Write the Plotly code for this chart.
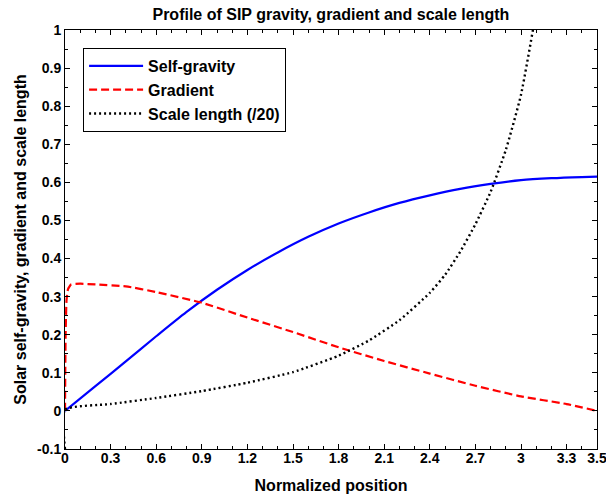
import plotly.graph_objects as go

# Data
grav_x = [0, 0.2, 0.4, 0.6, 0.8, 1.0, 1.2, 1.4, 1.6, 1.8, 2.0, 2.2, 2.4, 2.6, 2.8, 3.0, 3.2, 3.4, 3.5]
grav_y = [0, 0.065, 0.13, 0.196, 0.26, 0.318, 0.37, 0.416, 0.457, 0.492, 0.521, 0.546, 0.566, 0.583, 0.596, 0.606, 0.611, 0.614, 0.615]

grad_x = [0, 0.004, 0.01, 0.02, 0.04, 0.1, 0.2, 0.4, 0.6, 0.9, 1.2, 1.5, 1.8, 2.1, 2.4, 2.7, 3.0, 3.3, 3.5]
grad_y = [0, 0.2, 0.29, 0.32, 0.332, 0.334, 0.332, 0.327, 0.312, 0.284, 0.245, 0.207, 0.167, 0.131, 0.098, 0.066, 0.038, 0.018, 0.0]

scale_x = [0, 0, 0.3, 0.6, 0.9, 1.2, 1.5, 1.8, 2.0, 2.2, 2.4, 2.5, 2.6, 2.7, 2.8, 2.9, 3.0, 3.1, 3.15]
scale_y = [-0.1, 0.003, 0.018, 0.034, 0.052, 0.074, 0.102, 0.145, 0.185, 0.238, 0.31, 0.357, 0.418, 0.49, 0.575, 0.685, 0.83, 1.05, 1.18]

x_tickvals = [0, 0.3, 0.6, 0.9, 1.2, 1.5, 1.8, 2.1, 2.4, 2.7, 3.0, 3.3, 3.5]
x_ticktext = ["0", "0.3", "0.6", "0.9", "1.2", "1.5", "1.8", "2.1", "2.4", "2.7", "3", "3.3", "3.5"]
y_tickvals = [-0.1, 0, 0.1, 0.2, 0.3, 0.4, 0.5, 0.6, 0.7, 0.8, 0.9, 1]
y_ticktext = ["-0.1", "0", "0.1", "0.2", "0.3", "0.4", "0.5", "0.6", "0.7", "0.8", "0.9", "1"]

FONT = "Liberation Sans, Arial, sans-serif"
TICK_FS = 14
TITLE_FS = 16

fig = go.Figure()
fig.add_trace(go.Scatter(x=grav_x, y=grav_y, mode="lines", name="Self-gravity",
                         line=dict(color="#0000ff", width=2.2, shape="spline", smoothing=0.8)))
fig.add_trace(go.Scatter(x=grad_x, y=grad_y, mode="lines", name="Gradient",
                         line=dict(color="#ff0000", width=2.2, dash="8px,4px", shape="spline", smoothing=0.4)))
fig.add_trace(go.Scatter(x=scale_x, y=scale_y, mode="lines", name="Scale length (/20)",
                         line=dict(color="#000000", width=2.4, dash="2px,3px", shape="spline", smoothing=0.5)))

axis_common = dict(
    showgrid=False, zeroline=False, showline=True, linecolor="black", linewidth=1,
    mirror="allticks", ticks="inside", ticklen=5, tickcolor="black", tickwidth=1,
    tickfont=dict(family=FONT, size=TICK_FS, color="black", weight="bold"),
    ticklabeloverflow="allow",
)

fig.update_xaxes(range=[0, 3.5], tickmode="array", tickvals=x_tickvals, ticktext=x_ticktext,
                 minor=dict(dtick=0.1, tick0=0, ticks="inside", ticklen=3, tickcolor="black"),
                 ticklabelstandoff=-4, automargin=False,
                 title=dict(text="Normalized position", font=dict(family=FONT, size=TITLE_FS, color="black", weight="bold"), standoff=15),
                 **axis_common)
fig.update_yaxes(range=[-0.1, 1], tickmode="array", tickvals=y_tickvals, ticktext=y_ticktext,
                 minor=dict(dtick=0.05, tick0=0, ticks="inside", ticklen=3, tickcolor="black"),
                 automargin=True,
                 title=dict(text="Solar self-gravity, gradient and scale length", font=dict(family=FONT, size=TITLE_FS, color="black", weight="bold"), standoff=6),
                 **axis_common)

fig.update_layout(
    width=606, height=497,
    margin=dict(l=65, r=9, t=30, b=48),
    paper_bgcolor="white", plot_bgcolor="white",
    title=dict(text="Profile of SIP gravity, gradient and scale length", x=0.546, xanchor="center",
               y=0.972, yanchor="middle", font=dict(family=FONT, size=TITLE_FS, color="black", weight="bold")),
    legend=dict(x=0.034, y=0.957, xanchor="left", yanchor="top", bgcolor="white",
                bordercolor="black", borderwidth=1,
                font=dict(family=FONT, size=TITLE_FS, color="black", weight="bold"),
                tracegroupgap=0, itemwidth=54),
    showlegend=True,
)

fig.write_html("out.html", config={"displayModeBar": False},
               post_script="document.body.style.margin='0px';")
